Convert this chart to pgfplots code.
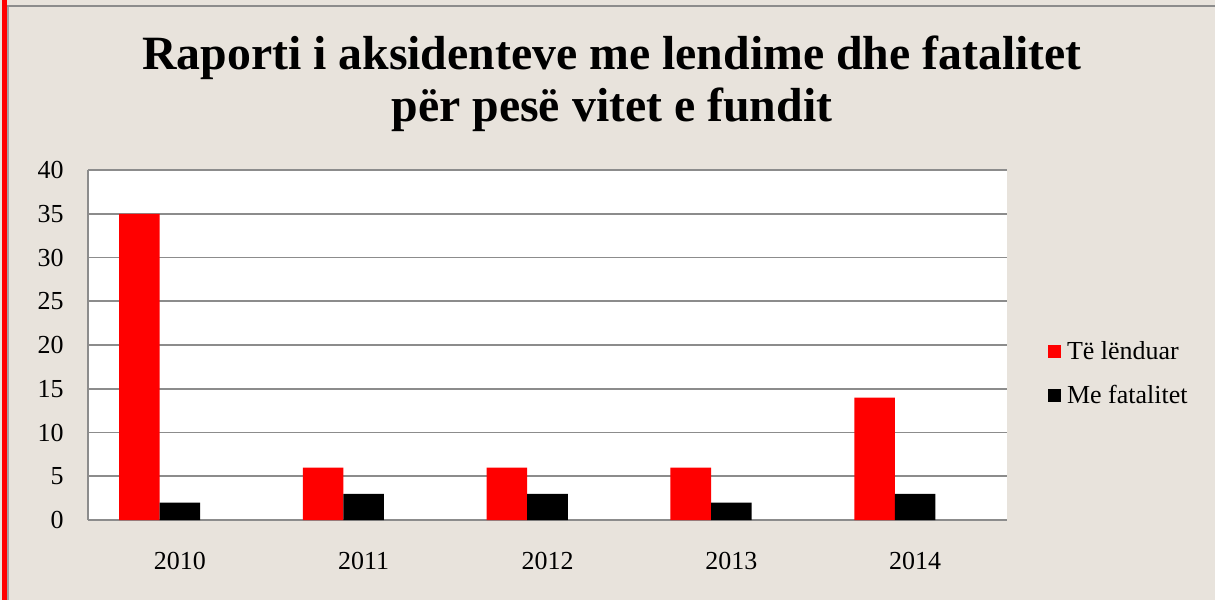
\documentclass[border=0pt]{standalone}
\usepackage{pgfplots}
\pgfplotsset{compat=1.18}
\usepackage{fontspec}
\setmainfont{Liberation Serif}

\definecolor{bgcol}{RGB}{232,227,220}
\definecolor{gridcol}{RGB}{140,140,140}
\definecolor{barred}{RGB}{255,0,0}

\begin{document}
\begin{tikzpicture}
% page: 1215 x 600 px, 1 px = 0.72 pt
\useasboundingbox (0,0) rectangle (874.8pt,432pt);
\fill[bgcol] (0,0) rectangle (874.8pt,432pt);
\fill[gridcol] (5pt,427pt) rectangle (874.8pt,428.4pt);
\fill[barred] (1.4pt,0) rectangle (5.0pt,432pt);
\fill[gridcol!80] (5.0pt,0) rectangle (6.3pt,427pt);

\node[anchor=base, font=\fontsize{34.4}{38}\selectfont\bfseries]
  at (440.6pt,382.3pt) {Raporti i aksidenteve me lendime dhe fatalitet};
\node[anchor=base, font=\fontsize{34.4}{38}\selectfont\bfseries]
  at (440.6pt,344.2pt) {për pesë vitet e fundit};

\begin{axis}[
    at={(63.36pt,57.6pt)}, anchor=south west,
    scale only axis,
    width=661.7pt, height=252pt,
    xmin=-0.5, xmax=4.5,
    ymin=0, ymax=40,
    ytick={0,5,...,40},
    xtick={0,1,2,3,4},
    xticklabels={2010,2011,2012,2013,2014},
    major tick length=0pt,
    axis background/.style={fill=white},
    axis lines*=left,
    axis line style={gridcol, line width=1.1pt},
    ymajorgrids,
    major grid style={gridcol, line width=1.1pt},
    tick label style={font=\fontsize{18.7}{22}\selectfont},
    /pgf/number format/assume math mode=true,
    yticklabel style={xshift=-14pt},
    xticklabel style={yshift=-20pt},
    ybar=0pt,
    bar width=29.2pt,
    legend style={at={(1.0402,0.4186)}, anchor=west, draw=none, fill=none,
        font=\fontsize{18.7}{22}\selectfont, row sep=17pt, column sep=2pt,
        nodes={inner xsep=2pt, inner ysep=0pt}},
    legend cell align=left,
    legend image code/.code={\draw[#1, draw=none] (0pt,-4.7pt) rectangle (9.4pt,4.7pt);},
]
\addplot[fill=barred, draw=none, bar shift=-29.2pt] coordinates {
    (0,35) (1,6) (2,6) (3,6) (4,14)
};
\addplot[fill=black, draw=none, bar shift=0pt] coordinates {
    (0,2) (1,3) (2,3) (3,2) (4,3)
};
\legend{Të lënduar, Me fatalitet}
\end{axis}
\end{tikzpicture}
\end{document}
